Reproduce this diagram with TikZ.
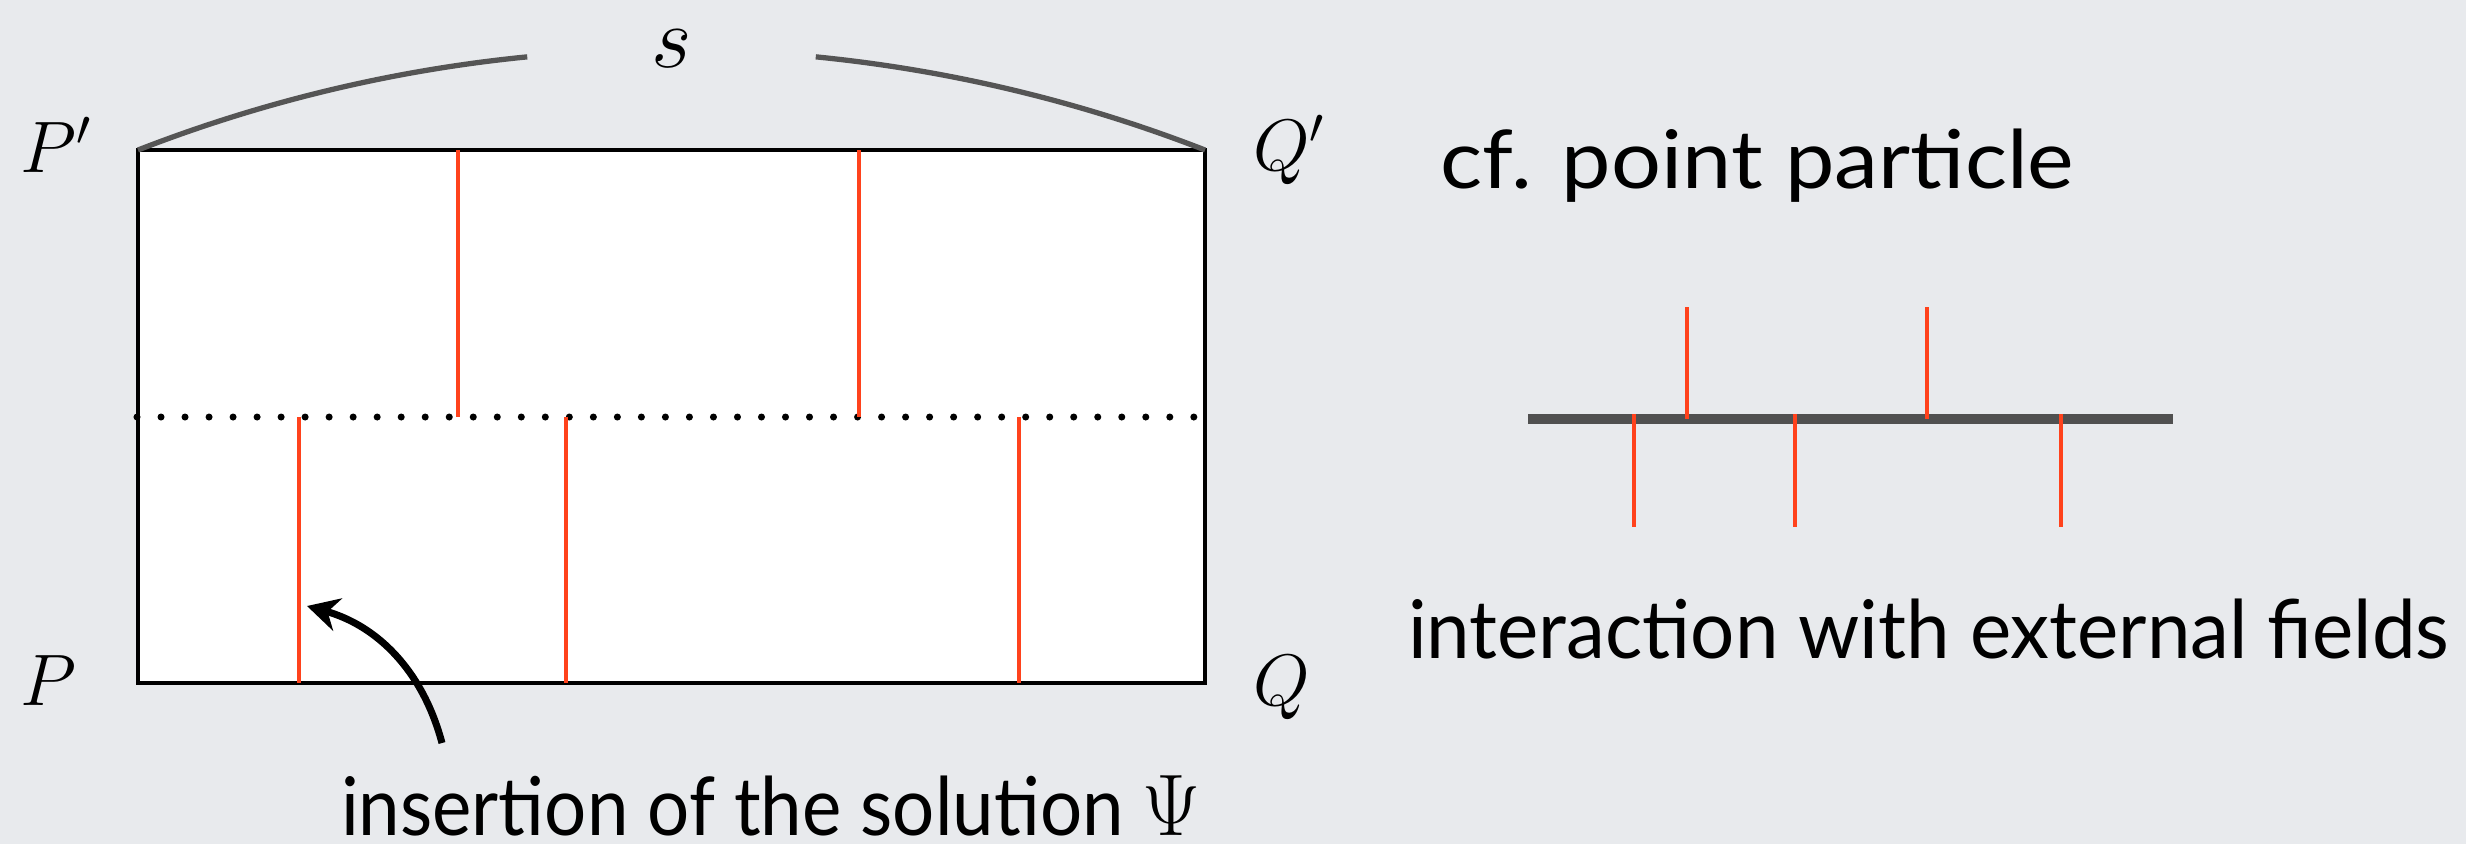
\documentclass[tikz,border=0pt]{standalone}
\usepackage[no-math]{fontspec}
\usepackage{graphicx}
\usetikzlibrary{arrows.meta}
\newfontfamily\chalk{Lato}
\definecolor{slidebg}{RGB}{232,234,237}
\definecolor{archgray}{RGB}{85,85,85}
\definecolor{linegray}{RGB}{80,80,80}
\definecolor{fieldred}{RGB}{255,66,28}

\begin{document}
\begin{tikzpicture}[
    x=0.01cm, y=-0.01cm,
    every node/.style={inner sep=0pt, outer sep=0pt},
    frame/.style={draw=black, line width=1.35pt, fill=white},
    insertion/.style={draw=fieldred, line width=1.3pt},
    slice/.style={line width=2pt, line cap=round, dash pattern=on 0pt off 6.83pt},
    brace/.style={draw=archgray, line width=1.5pt},
    worldline/.style={draw=linegray, line width=2.85pt},
    caption/.style={font=\chalk\fontsize{23}{28}\selectfont, anchor=base west},
    corner/.style={font=\fontsize{22}{22}\selectfont, anchor=base west},
    pointer/.style={-{Stealth[length=9pt, width=9.5pt]}, line width=2pt}
]

% slide background and page size
\fill[slidebg] (0,0) rectangle (2466,844);
\useasboundingbox (0,0) rectangle (2466,844);

% the world-sheet
\coordinate (Pp) at (138,150);
\coordinate (Qp) at (1205,150);
\coordinate (P) at (138,683);
\coordinate (Q) at (1205,683);
\draw[frame] (P) rectangle (Qp);
\draw[slice] (137,417) -- (1200,417);

% insertions above and below the slice
\foreach \x in {458,859}
    \draw[insertion] (\x,150) -- (\x,417);
\foreach \x in {299,566,1019}
    \draw[insertion] (\x,417) -- (\x,683);

% end points
\node[corner] (lPp) at (21,172) {$P'$};
\node[corner] (lP) at (21,705) {$P$};
\node[corner] (lQp) at (1253,170) {$Q'$};
\node[corner] (lQ) at (1253,705) {$Q$};

% length of the string
\node[font=\fontsize{34}{34}\selectfont, anchor=base] (len) at (672,67) {$s$};
\draw[brace] (Pp) arc[start angle=111.28, end angle=95.64, radius=14.7cm];
\draw[brace] (Qp) arc[start angle=68.72, end angle=84.36, radius=14.7cm];

% caption with arrow
\node[caption] (insert) at (341,835) {\scalebox{0.92}[1]{insertion of the solution $\Psi$}};
\coordinate (tail) at (442,743);
\coordinate (tip) at (307,606);
\draw[pointer] (tail) .. controls (422,668) and (375,625) .. (tip);

% point particle
\node[caption] (cf) at (1440,188) {\scalebox{1.09}[1]{cf. point particle}};
\coordinate (wl) at (1528,419);
\coordinate (wr) at (2173,419);
\draw[worldline] (wl) -- (wr);
\foreach \x in {1687,1927}
    \draw[insertion] (\x,307) -- (\x,419);
\foreach \x in {1634,1795,2061}
    \draw[insertion] (\x,414) -- (\x,527);
\node[caption] (ext) at (1408,658) {\scalebox{0.965}[1]{interaction with external fields}};

\end{tikzpicture}
\end{document}
